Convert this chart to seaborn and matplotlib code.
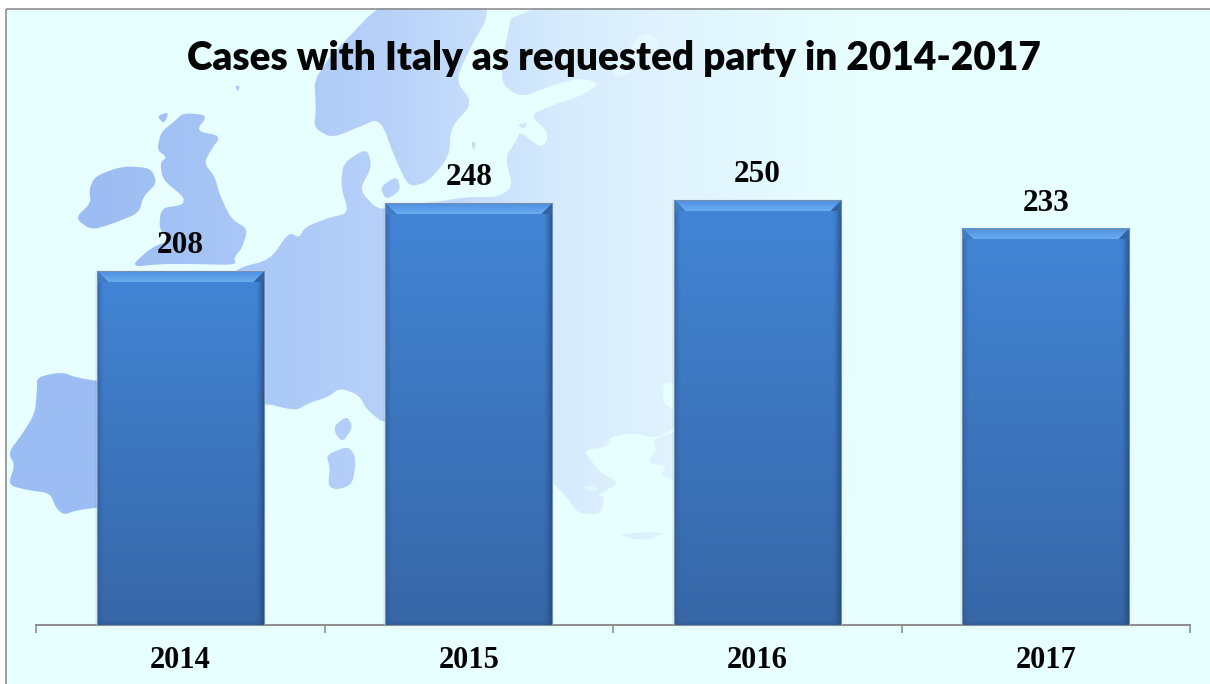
import numpy as np
import pandas as pd
import matplotlib
matplotlib.use("Agg")
import matplotlib.pyplot as plt
from matplotlib.path import Path
from matplotlib.patches import PathPatch, Polygon, Rectangle
import seaborn as sns

# Chart values
years = ["2014", "2015", "2016", "2017"]
cases = [208, 248, 250, 233]
chart_title = "Cases with Italy as requested party in 2014-2017"

# Backdrop map outlines in figure pixels (decoration only)
LAND = [
    # Ireland
    [(95,176),(123,166),(151,168),(157,183),(143,197),(139,213),(112,224),(91,230),(75,218),(91,203),(89,190)],
    # Great Britain
    [(183,113),(208,115),(196,131),(221,136),(211,150),(204,163),(215,177),(219,193),(231,219),(248,229),
     (242,248),(234,258),(236,265),(193,264),(162,264),(130,267),(152,247),(172,240),(159,230),(161,208),
     (183,205),(184,197),(163,180),(160,163),(167,157),(157,150),(161,132),(175,121)],
    [(157,116),(169,112),(164,124)],
    [(235,86),(240,86),(238,92)],
    # Iberia
    [(37,377),(62,372),(77,378),(120,384),(120,505),(77,510),(64,515),(56,508),(50,493),(27,490),(8,485),
     (15,465),(8,453),(23,433),(35,413),(37,390)],
    # Scandinavia
    [(394,-10),(314,73),(316,110),(314,128),(332,138),(359,127),(380,118),(397,163),(409,187),(428,182),
     (449,157),(451,127),(473,103),(455,80),(473,43),(488,17),(484,-10)],
    # Continental Europe and Russia
    [(200,420),(200,300),(237,268),(270,260),(289,232),(299,238),(305,227),(328,218),(349,213),(341,187),
     (343,163),(367,148),(372,167),(359,190),(378,210),(395,205),(436,202),(467,197),(498,197),(513,187),
     (505,157),(517,140),(520,131),(540,148),(547,141),(547,131),(530,115),(553,105),(583,95),(600,83),
     (580,78),(553,85),(520,98),(498,80),(517,-10),(1240,-10),(1240,370),(700,380),(675,383),(663,383),
     (663,403),(675,410),(675,427),(660,437),(650,437),(633,433),(610,437),(607,447),(583,450),(593,463),
     (600,472),(620,483),(597,495),(605,497),(600,515),(577,513),(567,497),(553,483),(540,470),(470,420),
     (386,425),(367,410),(359,395),(340,388),(328,397),(309,403),(297,410),(284,408),(264,403)],
    # Anatolia
    [(652,440),(675,432),(700,432),(900,440),(900,500),(700,495),(675,480),(660,475),(667,467),(650,463),
     (650,457),(657,450)],
    # Mediterranean and Baltic islands
    [(334,426),(347,416),(353,427),(343,442),(336,435)],
    [(326,455),(348,446),(356,457),(353,484),(337,490),(328,486),(330,467)],
    [(617,535),(643,541),(668,533),(643,532)],
    [(380,187),(397,176),(401,190),(386,200)],
    [(471,142),(476,142),(474,152)],
    [(517,125),(527,122),(525,129)],
]
INLAND_WATER = [
    [(640,35),(648,32),(663,43),(620,80),(610,71),(630,48)],
    [(583,487),(590,485),(600,490),(590,491)],
]


def rounded(points, passes=2):
    """Corner-cutting so the coastlines read as curves."""
    pts = np.asarray(points, dtype=float)
    for _ in range(passes):
        nxt = np.roll(pts, -1, axis=0)
        pts = np.column_stack([0.8 * pts + 0.2 * nxt, 0.2 * pts + 0.8 * nxt]).reshape(-1, 2)
    return pts


PAPER = "#e8ffff"
FRAME = "#8f8f8f"
W, H = 1210, 684
TOP, LEFT = 8.5, 6

sns.set_theme(style="white")
plt.rcParams["font.family"] = ["Liberation Serif", "DejaVu Serif"]

fig = plt.figure(figsize=(W / 100, H / 100), dpi=100, facecolor="white")

# Backdrop layer, addressed in pixels
bg = fig.add_axes([0, 0, 1, 1], zorder=0)
bg.set_xlim(0, W)
bg.set_ylim(H, 0)
bg.axis("off")
bg.add_patch(Rectangle((LEFT, TOP), W, H, facecolor=PAPER, edgecolor="none", zorder=1))

stops_x = [0, 100, 300, 390, 560, 670, 860, 1210]
stops_rgb = np.array([[156, 189, 243], [156, 189, 243], [174, 203, 248], [183, 209, 249],
                      [214, 235, 253], [224, 243, 254], [232, 255, 255], [232, 255, 255]]) / 255
xs = np.arange(W)
shade = np.stack([np.interp(xs, stops_x, stops_rgb[:, i]) for i in range(3)], axis=-1)[None, :, :]
verts, codes = [], []
for poly in LAND:
    smooth = [tuple(p) for p in rounded(poly)]
    verts += smooth + [smooth[0]]
    codes += [Path.MOVETO] + [Path.LINETO] * (len(smooth) - 1) + [Path.CLOSEPOLY]
land_path = Path(verts, codes)
land = bg.imshow(shade, extent=(0, W, H, TOP), aspect="auto", zorder=2, interpolation="bilinear")
land.set_clip_path(PathPatch(land_path, transform=bg.transData))
bg.set_xlim(0, W)
bg.set_ylim(H, 0)
for poly in INLAND_WATER:
    bg.add_patch(Polygon(rounded(poly), closed=True, facecolor="#e6f8ff", edgecolor="none", zorder=3))
bg.add_patch(Rectangle((LEFT, TOP), W, H, fill=False, edgecolor=FRAME, linewidth=1.2, zorder=4))

# Chart layer
ax = fig.add_axes([36 / W, 1 - 625 / H, 1154 / W, 595 / H], zorder=1)
ax.patch.set_alpha(0)
df = pd.DataFrame({"year": years, "cases": cases})
sns.barplot(data=df, x="year", y="cases", color="#4285d6", width=0.579, saturation=1, ax=ax, zorder=3)
ax.set_xlim(-0.5, 3.5)
ax.set_ylim(0, 350)
ax.set_xlabel("")
ax.set_ylabel("")
ax.set_yticks([])
ax.set_xticks(range(len(years)), years)
ax.set_xticks(np.arange(-0.5, len(years)), minor=True)
ax.tick_params(axis="x", which="major", length=0, pad=15.3, labelsize=22, labelcolor="#050505")
ax.tick_params(axis="x", which="minor", length=6, width=1.2, color=FRAME, bottom=True, direction="out")
for lbl in ax.get_xticklabels():
    lbl.set_fontweight("bold")
sns.despine(ax=ax, left=True)
ax.spines["bottom"].set_color(FRAME)
ax.spines["bottom"].set_linewidth(1.5)

container = ax.containers[0]
ax.bar_label(container, labels=[str(v) for v in cases], padding=8.2,
             fontsize=22.5, fontweight="bold", color="#050505")

# Bevelled finish on each bar, built on the extent of the bar itself
px_x = 4 / 1154
px_y = 350 / 595
top_col = np.array([66, 133, 214]) / 255
bot_col = np.array([55, 103, 167]) / 255
hi_a = np.array([108, 174, 242]) / 255
hi_b = np.array([78, 144, 224]) / 255
side_l = np.array([52, 104, 170]) / 255
side_r = np.array([36, 82, 140]) / 255
corner_l_col = np.array([64, 124, 196]) / 255
corner_r_col = np.array([50, 100, 165]) / 255

for bar in container:
    x0, w, h = bar.get_x(), bar.get_width(), bar.get_height()
    nx, ny = int(round(w / px_x)), int(round(h / px_y))
    t = np.linspace(0, 1, ny)[:, None, None]
    img = top_col * (1 - t) + bot_col * t
    img = np.repeat(img, nx, axis=1)
    rows, cols = np.mgrid[0:ny, 0:nx]
    # soft darkening towards the vertical edges
    left = np.clip(1 - cols / 7.0, 0, 1)[..., None] ** 1.5
    right = np.clip(1 - (nx - 1 - cols) / 9.0, 0, 1)[..., None] ** 1.5
    img = img * (1 - 0.65 * left) + (side_l * 0.85) * 0.65 * left
    img = img * (1 - 0.8 * right) + (side_r * 0.85) * 0.8 * right
    # short fade along the base
    base = np.clip(1 - (ny - 1 - rows) / 5.0, 0, 1)[..., None]
    img = img * (1 - 0.35 * base) + side_r * 0.35 * base
    # top bevel as a trapezoid with shaded mitres
    depth = 11
    inset = rows * 12 / depth
    mask = (rows < depth) & (cols >= inset) & (cols <= nx - 1 - inset)
    band = (rows / depth)[..., None]
    band_col = hi_b * (1 - band) + hi_a * band
    img[mask] = band_col[mask]
    img[(rows < depth) & (cols < inset)] = corner_l_col
    img[(rows < depth) & (cols > nx - 1 - inset)] = corner_r_col
    ax.imshow(img, extent=(x0, x0 + w, 0, h), aspect="auto", zorder=4, interpolation="bilinear")
    # thin rim and soft surrounding shadow
    ax.add_patch(Rectangle((x0, 0), w, h, fill=False, edgecolor="#7690ad", linewidth=0.7, zorder=5))
    for k in (1, 2):
        ax.add_patch(Rectangle((x0 - k * px_x, 0), w + 2 * k * px_x, h + 0.5 * k * px_y,
                               facecolor="#203040", edgecolor="none", alpha=0.06, zorder=2))

ax.set_xlim(-0.5, 3.5)
ax.set_ylim(0, 350)

fig.text(613.5 / W, 1 - 58.5 / H, chart_title, ha="center", va="center", fontsize=27.9,
         fontweight="heavy", family=["Lato", "DejaVu Sans"], color="#050505", zorder=5)

fig.savefig("out.png", dpi=100, facecolor="white")
